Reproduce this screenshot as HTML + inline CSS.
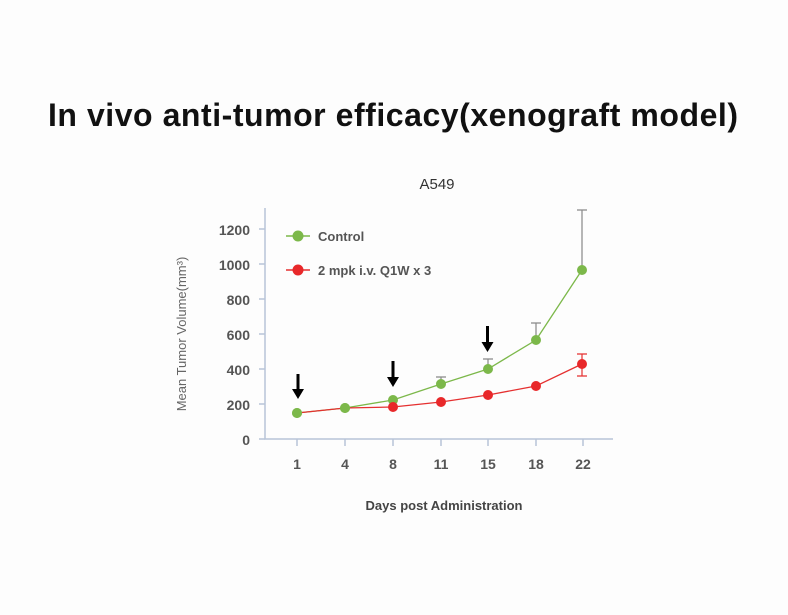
<!DOCTYPE html>
<html><head><style>
body{margin:0;background:#fdfdfd;width:788px;height:610px;overflow:hidden;font-family:"Liberation Sans",sans-serif}
</style></head><body>
<svg width="788" height="610" xmlns="http://www.w3.org/2000/svg" font-family="Liberation Sans, sans-serif">
<rect width="788" height="610" fill="#fdfdfd"/>
<text x="48" y="126" font-size="32" font-weight="bold" fill="#111" textLength="690" lengthAdjust="spacing">In vivo anti-tumor efficacy(xenograft model)</text>
<text x="437" y="189" text-anchor="middle" font-size="15" fill="#333">A549</text>
<g stroke="#b8c4d8" stroke-width="1.5" fill="none">
<path d="M265 208V439H613"/>
<path d="M259 229H265M259 264H265M259 299H265M259 334H265M259 369H265M259 404H265M259 439H265"/>
<path d="M297 439V446M345 439V446M393 439V446M441 439V446M488 439V446M536 439V446M583 439V446"/>
</g>
<g font-size="14" fill="#555" font-weight="bold" text-anchor="end">
<text x="250" y="235">1200</text><text x="250" y="270">1000</text><text x="250" y="305">800</text><text x="250" y="340">600</text><text x="250" y="375">400</text><text x="250" y="410">200</text><text x="250" y="445">0</text>
</g>
<g font-size="14" fill="#555" font-weight="bold" text-anchor="middle">
<text x="297" y="469">1</text><text x="345" y="469">4</text><text x="393" y="469">8</text><text x="441" y="469">11</text><text x="488" y="469">15</text><text x="536" y="469">18</text><text x="583" y="469">22</text>
</g>
<text x="444" y="510" text-anchor="middle" font-size="13" fill="#444" font-weight="bold">Days post Administration</text>
<text transform="translate(186,334) rotate(-90)" text-anchor="middle" font-size="13" fill="#666">Mean Tumor Volume(mm³)</text>
<g stroke="#888" stroke-width="1.2">
<path d="M441 384V377M436 377H446M488 369V359M483 359H493M536 340V323M531 323H541M582 270V210M577 210H587"/>
</g>
<g stroke="#e53030" stroke-width="1.2"><path d="M582 354V376M577 354H587M577 376H587"/></g>
<polyline points="297,413 345,408 393,400 441,384 488,369 536,340 582,270" fill="none" stroke="#7cb84a" stroke-width="1.3"/>
<polyline points="297,413 345,408 393,407 441,402 488,395 536,386 582,364" fill="none" stroke="#e53030" stroke-width="1.3"/>
<g fill="#7cb84a"><circle cx="297" cy="413" r="5"/><circle cx="345" cy="408" r="5"/><circle cx="393" cy="400" r="5"/><circle cx="441" cy="384" r="5"/><circle cx="488" cy="369" r="5"/><circle cx="536" cy="340" r="5"/><circle cx="582" cy="270" r="5"/></g>
<g fill="#e8282a"><circle cx="393" cy="407" r="5"/><circle cx="441" cy="402" r="5"/><circle cx="488" cy="395" r="5"/><circle cx="536" cy="386" r="5"/><circle cx="582" cy="364" r="5"/></g>
<g fill="#7cb84a"><circle cx="297" cy="413" r="5"/><circle cx="345" cy="408" r="5"/></g>
<g fill="#000">
<path d="M296.5 374h3v15h4.5l-6 10l-6-10h4.5z"/>
<path d="M391.5 361h3v16h4.5l-6 10l-6-10h4.5z"/>
<path d="M486 326h3v16h4.5l-6 10l-6-10h4.5z"/>
</g>
<line x1="286" y1="236" x2="310" y2="236" stroke="#7cb84a" stroke-width="1.5"/><circle cx="298" cy="236" r="5.5" fill="#7cb84a"/>
<text x="318" y="241" font-size="13" fill="#555" font-weight="bold">Control</text>
<line x1="286" y1="270" x2="310" y2="270" stroke="#e53030" stroke-width="1.5"/><circle cx="298" cy="270" r="5.5" fill="#e8282a"/>
<text x="318" y="275" font-size="13" fill="#555" font-weight="bold">2 mpk i.v. Q1W x 3</text>
</svg>
</body></html>
